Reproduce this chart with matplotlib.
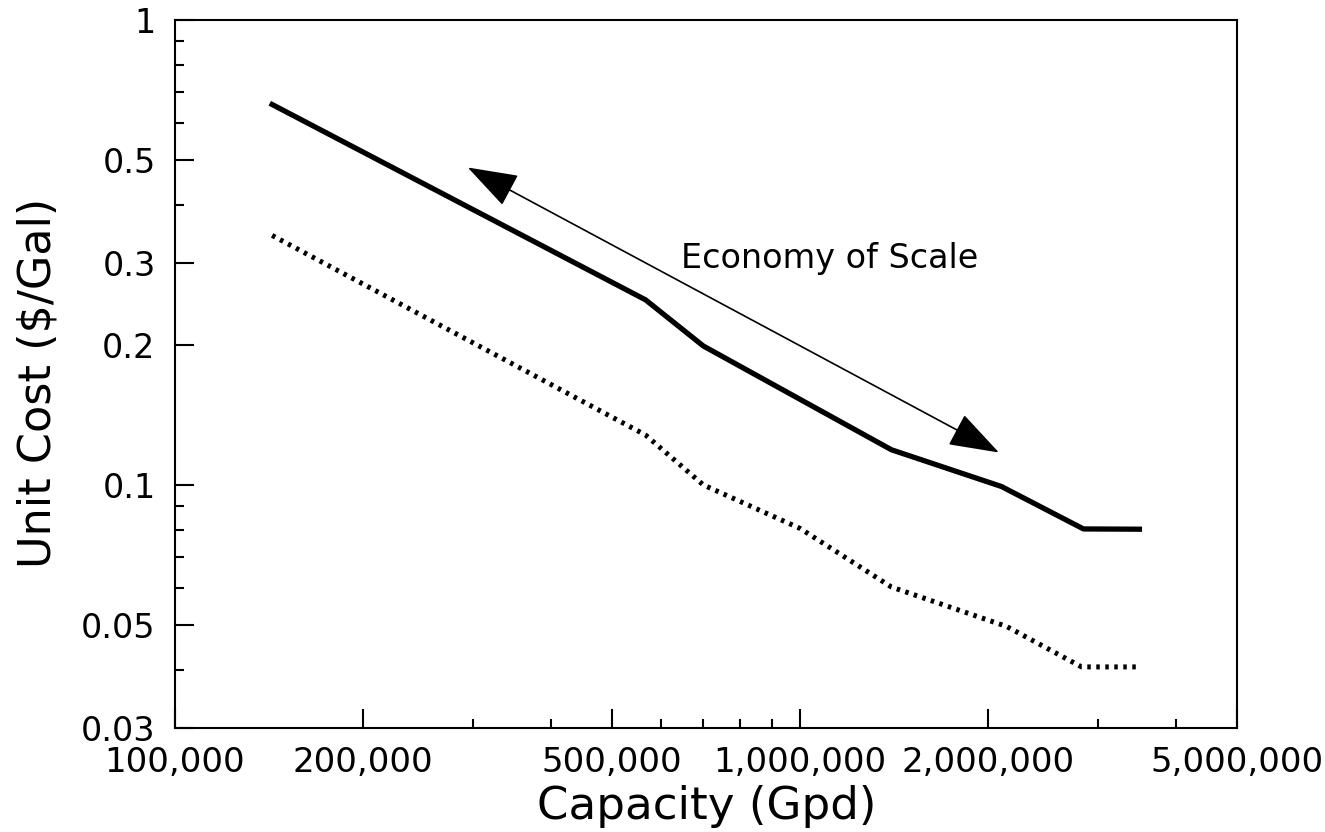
import matplotlib
matplotlib.use("Agg")
import matplotlib.pyplot as plt
from matplotlib.ticker import FixedLocator, FixedFormatter, NullFormatter

# capacity (gallons per day) vs unit cost ($/gal)
cap_upper = [143000, 566000, 700000, 1400000, 2100000, 2840000, 3490000]
cost_upper = [0.658, 0.250, 0.199, 0.119, 0.0992, 0.0804, 0.0803]

cap_lower = [143000, 566000, 700000, 1000000, 1400000, 2140000, 2820000, 3490000]
cost_lower = [0.344, 0.128, 0.100, 0.0806, 0.0603, 0.0496, 0.0406, 0.0406]

x_major = [1e5, 2e5, 5e5, 1e6, 2e6, 5e6]
x_labels = ["100,000", "200,000", "500,000", "1,000,000", "2,000,000", "5,000,000"]
x_minor = [3e5, 4e5, 6e5, 7e5, 8e5, 9e5, 3e6, 4e6]

y_major = [0.03, 0.05, 0.1, 0.2, 0.3, 0.5, 1]
y_labels = ["0.03", "0.05", "0.1", "0.2", "0.3", "0.5", "1"]
y_minor = [0.04, 0.06, 0.07, 0.08, 0.09, 0.4, 0.6, 0.7, 0.8, 0.9]

# arrow ends and note position
arrow_start = (2.94e5, 0.4816)
arrow_end = (2.08e6, 0.1174)
note_pos = (6.45e5, 0.307)

fig = plt.figure(figsize=(13.25, 8.32), dpi=100)
ax = fig.add_axes([0.1321, 0.125, 0.8015, 0.851])

ax.plot(cap_upper, cost_upper, color="black", lw=3.8, solid_joinstyle="round")
ax.plot(cap_lower, cost_lower, color="black", lw=3.6, linestyle=(0, (0.7, 1.1)))

ax.set_xscale("log")
ax.set_yscale("log")
ax.set_xlim(1e5, 5e6)
ax.set_ylim(0.03, 1)

ax.xaxis.set_major_locator(FixedLocator(x_major))
ax.xaxis.set_major_formatter(FixedFormatter(x_labels))
ax.xaxis.set_minor_locator(FixedLocator(x_minor))
ax.xaxis.set_minor_formatter(NullFormatter())
ax.yaxis.set_major_locator(FixedLocator(y_major))
ax.yaxis.set_major_formatter(FixedFormatter(y_labels))
ax.yaxis.set_minor_locator(FixedLocator(y_minor))
ax.yaxis.set_minor_formatter(NullFormatter())

ax.tick_params(which="both", direction="in", top=False, right=False, width=1.5)
ax.tick_params(which="major", length=14)
ax.tick_params(which="minor", length=6.5)
ax.tick_params(axis="y", which="major", labelsize=24, pad=14)
ax.tick_params(axis="x", which="major", labelsize=24.5, pad=13)
for s in ax.spines.values():
    s.set_linewidth(1.5)

ax.annotate("", xy=arrow_start, xytext=arrow_end,
            arrowprops=dict(arrowstyle="<|-|>,head_length=1.6,head_width=0.55",
                            mutation_scale=20, lw=1.2, color="black",
                            shrinkA=0, shrinkB=0))
ax.text(note_pos[0], note_pos[1], "Economy of Scale", fontsize=24,
        ha="left", va="center")

fig.text(38 / 1325, 1 - 383 / 832, "Unit Cost ($/Gal)", rotation=90,
         fontsize=32, ha="center", va="center")
fig.text(707 / 1325, 1 - 806 / 832, "Capacity (Gpd)", fontsize=32.5,
         ha="center", va="center")

fig.savefig("out.png", dpi=100)
